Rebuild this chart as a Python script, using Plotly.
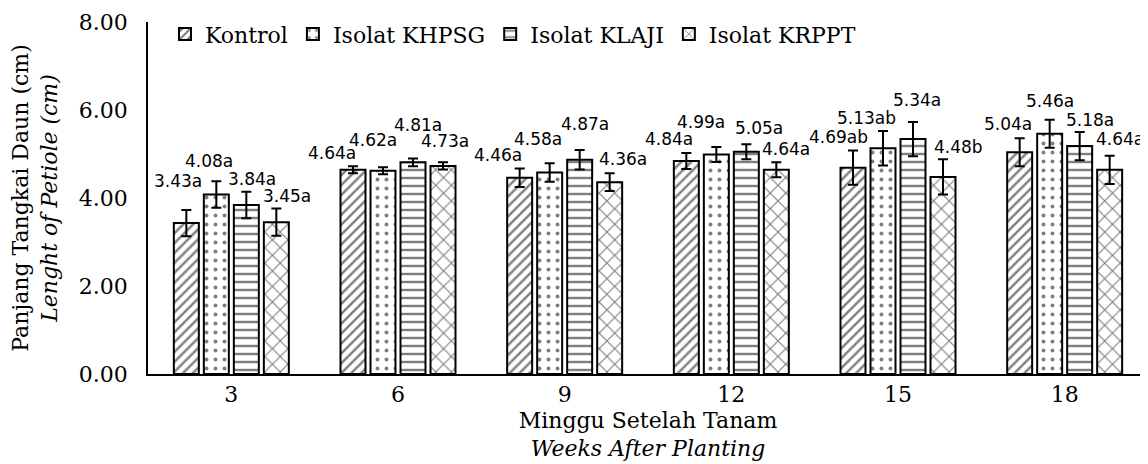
import plotly.graph_objects as go

weeks = ["3", "6", "9", "12", "15", "18"]
series_names = ["Kontrol", "Isolat KHPSG", "Isolat KLAJI", "Isolat KRPPT"]

kontrol = [3.43, 4.64, 4.46, 4.84, 4.69, 5.04]
khpsg = [4.08, 4.62, 4.58, 4.99, 5.13, 5.46]
klaji = [3.84, 4.81, 4.87, 5.05, 5.34, 5.18]
krppt = [3.45, 4.73, 4.36, 4.64, 4.48, 4.64]

kontrol_err = [0.30, 0.08, 0.21, 0.18, 0.39, 0.32]
khpsg_err = [0.30, 0.08, 0.21, 0.17, 0.39, 0.32]
klaji_err = [0.30, 0.09, 0.22, 0.17, 0.39, 0.32]
krppt_err = [0.31, 0.08, 0.20, 0.17, 0.40, 0.32]

kontrol_letters = ["a", "a", "a", "a", "ab", "a"]
khpsg_letters = ["a", "a", "a", "a", "ab", "a"]
klaji_letters = ["a", "a", "a", "a", "a", "a"]
krppt_letters = ["a", "a", "a", "a", "b", "a"]

values = [kontrol, khpsg, klaji, krppt]
errors = [kontrol_err, khpsg_err, klaji_err, krppt_err]
letters = [kontrol_letters, khpsg_letters, klaji_letters, krppt_letters]

# label placement styles (pixel shifts relative to bar centre / error-bar top)
label_dx = [
    [-8, -21, -22, -17, -15, -12],
    [-7, -10, -12, -15, -17, 0],
    [6, 5, 5, 13, 4, 10],
    [11, 2, 13, 10, 15, 10],
]
label_dy = [
    [29, 13, 14, 14, 13, 14],
    [20, 27, 24, 25, 13, 19],
    [13, 33, 26, 16, 22, 12],
    [13, 21, 14, 13, 12, 17],
]

patterns = ["/", ".", "-", "x"]
pattern_sizes = [7, 9, 8, 11]
pattern_solid = [0.35, 0.15, 0.3, 0.2]

SERIF = "DejaVu Serif"
SANS = "DejaVu Sans"
FS = 22

fig = go.Figure()
for i, name in enumerate(series_names):
    fig.add_trace(go.Bar(
        name=name,
        x=weeks,
        y=values[i],
        marker=dict(
            color="white",
            line=dict(color="black", width=2),
            pattern=dict(shape=patterns[i], fgcolor="black", bgcolor="white",
                         size=pattern_sizes[i], solidity=pattern_solid[i]),
        ),
        error_y=dict(type="data", array=errors[i], color="black", thickness=2, width=5),
    ))

slot = 0.18
annotations = []
for i in range(4):
    for k in range(len(weeks)):
        v = values[i][k]
        annotations.append(dict(
            x=k + (i - 1.5) * slot,
            y=v + errors[i][k],
            xref="x", yref="y",
            text=f"{v:.2f}{letters[i][k]}",
            showarrow=False,
            xanchor="center", yanchor="middle",
            xshift=label_dx[i][k], yshift=label_dy[i][k],
            font=dict(family=SANS, size=17, color="black"),
        ))

# page body has an 8px margin: figure is sized/offset to compensate
fig.update_layout(
    width=1140, height=456,
    margin=dict(l=140, r=0, t=14, b=90),
    paper_bgcolor="white", plot_bgcolor="white",
    barmode="group", bargap=0.28, bargroupgap=0.167,
    showlegend=True,
    legend=dict(orientation="h", x=0.017, y=1.025, xanchor="left", yanchor="top",
                font=dict(family=SERIF, size=FS, color="black"),
                bgcolor="rgba(0,0,0,0)"),
    annotations=annotations,
    font=dict(family=SERIF, color="black"),
)
fig.update_yaxes(
    range=[0, 8], tickvals=[0, 2, 4, 6, 8], tickformat=".2f",
    showgrid=False, zeroline=False, showline=True, linecolor="black", linewidth=1.5,
    ticks="", ticklabelstandoff=14, tickfont=dict(family=SERIF, size=FS, color="black"),
    title=dict(text="Panjang Tangkai Daun (cm)<br><i>Lenght of Petiole (cm)</i>",
               font=dict(family=SERIF, size=FS, color="black"), standoff=16),
)
fig.update_xaxes(
    showgrid=False, showline=True, linecolor="black", linewidth=1.5, ticks="",
    tickfont=dict(family=SERIF, size=FS, color="black"),
    title=dict(text="Minggu Setelah Tanam<br><i>Weeks After Planting</i>",
               font=dict(family=SERIF, size=FS, color="black"), standoff=6),
)

fig.write_html("out.html")
